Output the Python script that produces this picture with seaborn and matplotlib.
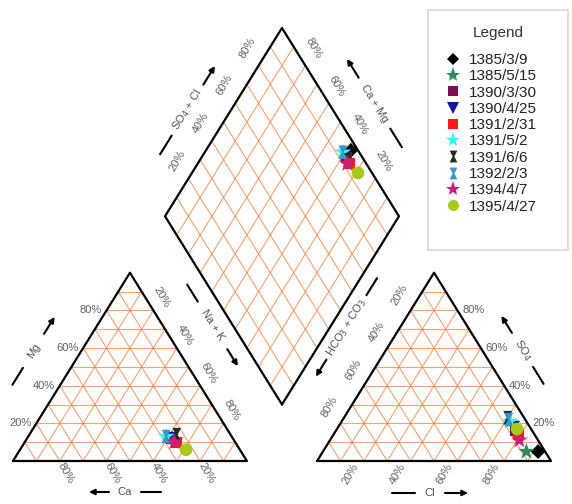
import numpy as np
import pandas as pd
import matplotlib.pyplot as plt
import seaborn as sns
from matplotlib.lines import Line2D
from matplotlib.patches import Rectangle

# samples (sampling dates) and their composition in % meq/L
samples = ['1385/3/9', '1385/5/15', '1390/3/30', '1390/4/25', '1391/2/31',
           '1391/5/2', '1391/6/6', '1392/2/3', '1394/4/7', '1395/4/27']
ca = [26, 25, 26, 27, 25, 28, 23, 28, 26, 23]
mg = [12, 11, 12, 12, 10, 13, 14, 13, 10, 6]
nak = [62, 64, 62, 61, 65, 59, 63, 59, 64, 71]
hco3 = [3, 8, 7, 7, 7, 7, 7, 7, 8, 6]
cl = [92, 87, 77, 75, 79, 72, 70, 71, 81, 77]
so4 = [5, 5, 16, 18, 14, 21, 23, 22, 11, 17]

colors = ['#000000', '#2e8b57', '#7a0f4f', '#1414a0', '#ff1a1a',
          '#3ef2f2', '#1c301c', '#3a96c8', '#c8207a', '#a8c81e']
hourglass = [(-0.65, 1), (0.65, 1), (0.15, 0), (0.65, -1), (-0.65, -1),
             (-0.15, 0), (-0.65, 1)]
markers = ['D', '*', 's', 'v', 's', '*', hourglass, hourglass, '*', 'o']
marker_size = {'D': 6.5, '*': 11, 's': 7, 'v': 8, 'o': 8}
tick_vals = [20, 40, 60, 80]

# geometry of the piper plot
offset = 0.15
h = np.sqrt(3) / 2
offy = offset * np.sqrt(3)
SX, SY = 233.9, 217.4  # pixels per plot unit
W, H = 572, 504
x0 = -13 / SX
y0 = -43 / SY

B = np.array([1 + offset, offy])
e1 = np.array([-0.5, h])
e2 = np.array([0.5, h])
L, R, T = B + e1, B + e2, B + e1 + e2


def off(p, dx, dy):
    return np.array([p[0] + dx / SX, p[1] + dy / SY])


def msize(m):
    return marker_size.get(m, 8.5) if isinstance(m, str) else 8.5


sns.set_theme(style="white")
plt.rcParams['font.family'] = ['Liberation Sans', 'DejaVu Sans']

fig = plt.figure(figsize=(W / 100, H / 100), dpi=100)
ax = fig.add_axes([0, 0, 1, 1])

grid_kw = dict(color='#f07a38', lw=0.8, alpha=0.7, zorder=1)
for k in range(1, 10):
    f = k / 10
    for sx in [0, 1 + 2 * offset]:
        ax.plot([sx + f / 2, sx + 1 - f / 2], [f * h, f * h], **grid_kw)
        ax.plot([sx + f, sx + f + (1 - f) / 2], [0, (1 - f) * h], **grid_kw)
        ax.plot([sx + 1 - f, sx + (1 - f) / 2], [0, (1 - f) * h], **grid_kw)
    p, q = B + f * e1, B + f * e1 + e2
    ax.plot([p[0], q[0]], [p[1], q[1]], **grid_kw)
    p, q = B + f * e2, B + f * e2 + e1
    ax.plot([p[0], q[0]], [p[1], q[1]], **grid_kw)

edge_kw = dict(color='black', lw=1.6, zorder=3, solid_capstyle='round')
for sx in [0, 1 + 2 * offset]:
    ax.plot([sx, sx + 1, sx + 0.5, sx], [0, 0, h, 0], **edge_kw)
ax.plot([B[0], L[0], T[0], R[0], B[0]], [B[1], L[1], T[1], R[1], B[1]], **edge_kw)

# tick labels
tk = dict(fontsize=8, color='#606060', va='center', ha='center')
for v in tick_vals:
    f = v / 100
    lab = f'{v}%'
    p = off((f / 2, f * h), -5, 0)
    ax.text(p[0], p[1], lab, **{**tk, 'ha': 'right'})
    p = off((1 - f, 0), 6, -12)
    ax.text(p[0], p[1], lab, rotation=-60, **tk)
    p = off((f + (1 - f) / 2, (1 - f) * h), 8, 13)
    ax.text(p[0], p[1], lab, rotation=-60, **tk)
    sx = 1 + 2 * offset
    p = off((sx + (1 - f) / 2, (1 - f) * h), -11, 16)
    ax.text(p[0], p[1], lab, rotation=60, **tk)
    p = off((sx + f, 0), -13, -13)
    ax.text(p[0], p[1], lab, rotation=60, **tk)
    p = off((sx + 1 - f / 2, f * h), 5, 0)
    ax.text(p[0], p[1], lab, **{**tk, 'ha': 'left'})
    p = off(L + f * (T - L), -11, 18)
    ax.text(p[0], p[1], lab, rotation=60, **tk)
    p = off(R + f * (T - R), 8, 17)
    ax.text(p[0], p[1], lab, rotation=-60, **tk)


def axis_title(pt, dx, dy, text, ang, sign, a, b):
    c = off(pt, dx, dy)
    u = np.array([np.cos(np.radians(ang)), np.sin(np.radians(ang))])
    ax.text(c[0], c[1], text, rotation=ang, rotation_mode='anchor',
            ha='center', va='center', fontsize=8, color='#505050')
    d0, d1 = off(c, *(-sign * a * u)), off(c, *(-sign * b * u))
    ax.plot([d0[0], d1[0]], [d0[1], d1[1]], color='black', lw=1.5)
    a0, a1 = off(c, *(sign * a * u)), off(c, *(sign * b * u))
    ax.annotate('', xy=a1, xytext=a0,
                arrowprops=dict(arrowstyle='-|>', color='black', lw=1.5,
                                mutation_scale=8, shrinkA=0, shrinkB=0))


ang = np.degrees(np.arctan2(h * SY, 0.5 * SX))
sx = 1 + 2 * offset
axis_title((0.25, h / 2), -38, 16, 'Mg', ang, 1, 20, 40)
axis_title((0.5, 0), -5, -31, 'Ca', 0, -1, 16, 36)
axis_title((sx + 0.5, 0), -4, -32, 'Cl', 0, 1, 15, 38)
axis_title((sx + 0.75, h / 2), 30, 17, 'SO$_4$', -ang, -1, 20, 40)
axis_title((L + T) / 2, -36, 12, 'SO$_4$ + Cl', ang, 1, 30, 52)
axis_title((R + T) / 2, 34, 19, 'Ca + Mg', -ang, -1, 30, 52)
axis_title((L + B) / 2, -11, -15, 'Na + K', -ang, 1, 28, 48)
axis_title((R + B) / 2, 6, -17, 'HCO$_3$ + CO$_3$', ang, -1, 38, 58)

# project samples
c_tot = np.array(ca) + np.array(mg) + np.array(nak)
a_tot = np.array(hco3) + np.array(cl) + np.array(so4)
f_mg, f_nak = np.array(mg) / c_tot, np.array(nak) / c_tot
f_cl, f_so4 = np.array(cl) / a_tot, np.array(so4) / a_tot
s = 1 - f_nak
t = f_cl + f_so4
df = pd.DataFrame({
    'sample': samples * 3,
    'x': np.concatenate([f_nak + 0.5 * f_mg,
                         sx + f_cl + 0.5 * f_so4,
                         B[0] + 0.5 * (t - s)]),
    'y': np.concatenate([h * f_mg, h * f_so4, B[1] + h * (s + t)]),
})
areas = {smp: (msize(m) * 1.15) ** 2 for smp, m in zip(samples, markers)}
sns.scatterplot(data=df, x='x', y='y', hue='sample', style='sample',
                size='sample', sizes=areas,
                palette=dict(zip(samples, colors)),
                markers=dict(zip(samples, markers)),
                linewidth=0, legend=False, ax=ax, zorder=5)

ax.set_xlim(x0, x0 + W / SX)
ax.set_ylim(y0, y0 + H / SY)
ax.axis('off')

# legend
handles = [Line2D([], [], marker=m, color=c, linestyle='',
                  markersize=msize(m), markeredgewidth=0)
           for m, c in zip(markers, colors)]
fig.legend(handles, samples, loc='upper left',
           bbox_to_anchor=(445.5 / W, 1 - 53 / H), frameon=False,
           fontsize=11, handlelength=1.0, handletextpad=0.5,
           labelspacing=0.15, borderpad=0, borderaxespad=0,
           labelcolor='#222222')
fig.text(498 / W, 1 - 33 / H, 'Legend', fontsize=11, ha='center',
         va='center', color='#333333')
fig.patches.append(Rectangle((428 / W, 1 - 250 / H), 140 / W, 240 / H,
                             transform=fig.transFigure, fill=False,
                             edgecolor='#d8d8d8', lw=1.2))

fig.savefig('out.png', dpi=100)
